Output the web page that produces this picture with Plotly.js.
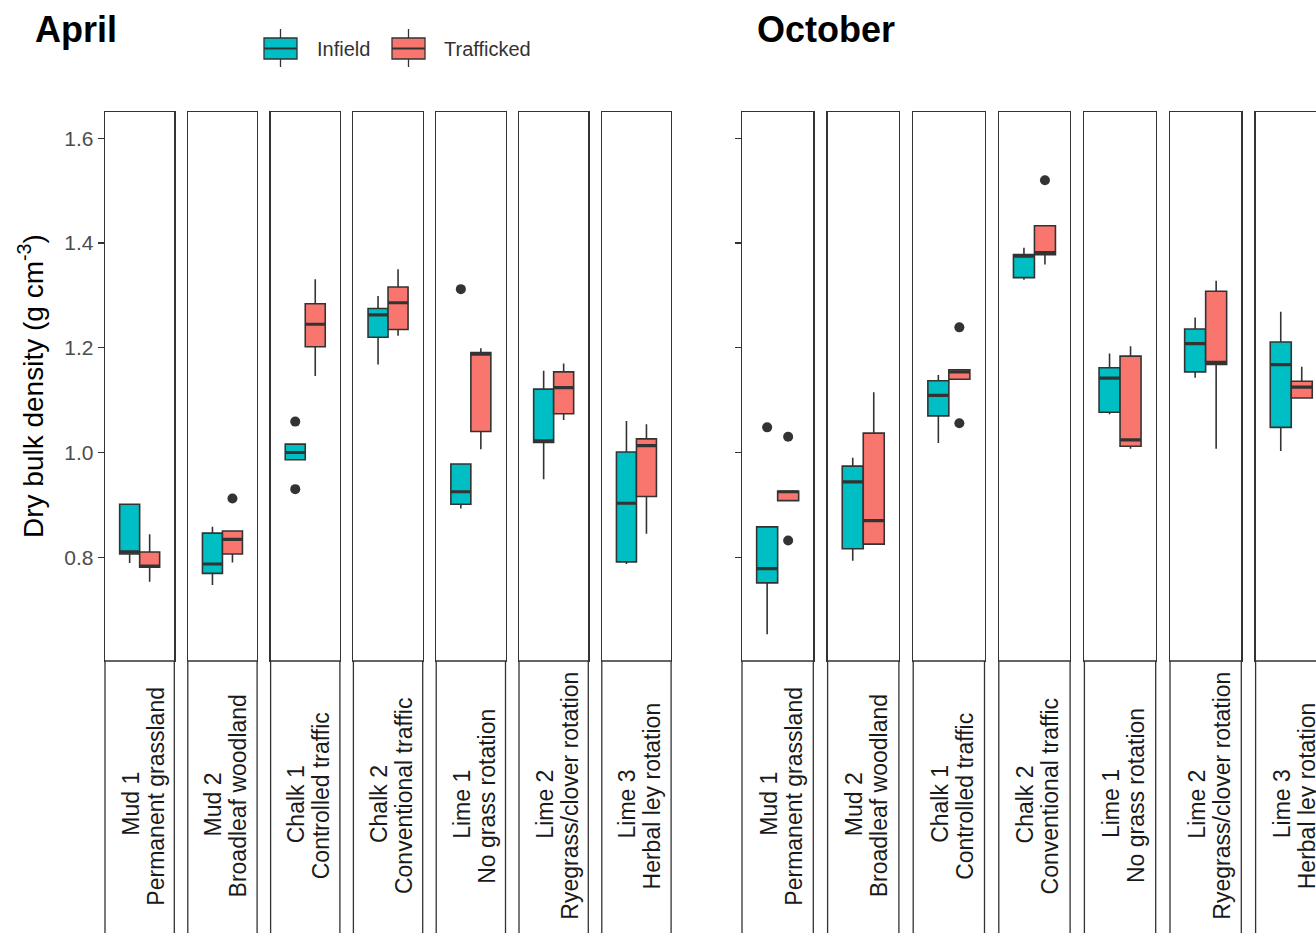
<!DOCTYPE html>
<html><head><meta charset="utf-8">
<script src="https://cdn.plot.ly/plotly-3.0.1.min.js"></script>
<style>html,body{margin:0;padding:0;overflow:hidden;background:#fff}#chart{width:1340px;height:933px}</style>
</head><body><div id="chart"></div><script>
// ---------- data ----------
const months = ['April', 'October'];
const siteNames = ['Mud 1', 'Mud 2', 'Chalk 1', 'Chalk 2', 'Lime 1', 'Lime 2', 'Lime 3'];
const siteDescriptions = ['Permanent grassland', 'Broadleaf woodland', 'Controlled traffic',
  'Conventional traffic', 'No grass rotation', 'Ryegrass/clover rotation', 'Herbal ley rotation'];
const groups = ['Infield', 'Trafficked'];
const groupColors = ['#00BFC4', '#F8766D'];
const yTickValues = [0.8, 1.0, 1.2, 1.4, 1.6];
const yTickLabels = ['0.8', '1.0', '1.2', '1.4', '1.6'];

// April - Infield
const aprInfieldLower  = [0.789, 0.747, 0.986, 1.168, 0.893, 0.949, 0.787];
const aprInfieldQ1     = [0.806, 0.769, 0.986, 1.220, 0.901, 1.019, 0.791];
const aprInfieldMedian = [0.810, 0.787, 1.000, 1.263, 0.925, 1.022, 0.903];
const aprInfieldQ3     = [0.901, 0.846, 1.016, 1.275, 0.978, 1.121, 1.001];
const aprInfieldUpper  = [0.901, 0.858, 1.016, 1.299, 0.978, 1.156, 1.060];
const aprInfieldOut    = [[], [], [1.059, 0.930], [], [1.312], [], []];
// April - Trafficked
const aprTraffLower  = [0.753, 0.790, 1.146, 1.223, 1.006, 1.062, 0.845];
const aprTraffQ1     = [0.781, 0.806, 1.202, 1.235, 1.040, 1.074, 0.916];
const aprTraffMedian = [0.783, 0.834, 1.245, 1.286, 1.188, 1.124, 1.013];
const aprTraffQ3     = [0.810, 0.850, 1.284, 1.316, 1.191, 1.154, 1.026];
const aprTraffUpper  = [0.844, 0.850, 1.331, 1.350, 1.199, 1.170, 1.054];
const aprTraffOut    = [[], [0.912], [], [], [], [], []];
// October - Infield
const octInfieldLower  = [0.653, 0.793, 1.018, 1.330, 1.073, 1.143, 1.003];
const octInfieldQ1     = [0.751, 0.816, 1.070, 1.334, 1.077, 1.154, 1.048];
const octInfieldMedian = [0.778, 0.944, 1.109, 1.375, 1.142, 1.208, 1.168];
const octInfieldQ3     = [0.858, 0.974, 1.137, 1.378, 1.162, 1.236, 1.211];
const octInfieldUpper  = [0.858, 0.990, 1.148, 1.391, 1.189, 1.258, 1.269];
const octInfieldOut    = [[1.048], [], [], [], [], [], []];
// October - Trafficked
const octTraffLower  = [0.908, 0.825, 1.140, 1.359, 1.007, 1.007, 1.104];
const octTraffQ1     = [0.908, 0.825, 1.140, 1.378, 1.012, 1.168, 1.104];
const octTraffMedian = [0.925, 0.870, 1.154, 1.382, 1.024, 1.172, 1.125];
const octTraffQ3     = [0.926, 1.037, 1.158, 1.433, 1.184, 1.308, 1.136];
const octTraffUpper  = [0.926, 1.115, 1.158, 1.433, 1.203, 1.328, 1.164];
const octTraffOut    = [[1.030, 0.832], [], [1.239, 1.056], [1.520], [], [], []];

const stats = [
  [ {lo: aprInfieldLower, q1: aprInfieldQ1, me: aprInfieldMedian, q3: aprInfieldQ3, up: aprInfieldUpper, out: aprInfieldOut},
    {lo: aprTraffLower, q1: aprTraffQ1, me: aprTraffMedian, q3: aprTraffQ3, up: aprTraffUpper, out: aprTraffOut} ],
  [ {lo: octInfieldLower, q1: octInfieldQ1, me: octInfieldMedian, q3: octInfieldQ3, up: octInfieldUpper, out: octInfieldOut},
    {lo: octTraffLower, q1: octTraffQ1, me: octTraffMedian, q3: octTraffQ3, up: octTraffUpper, out: octTraffOut} ]
];

// ---------- layout geometry (pixels) ----------
const W = 1340, H = 933, ML = 105, MR = 13, MT = 112, MB = 272;
const PW = W - ML - MR, PH = H - MT - MB;
const xp = px => (px - ML) / PW;
const yp = py => (H - MB - py) / PH;
const panelLeft = [105, 742];
const facetStep = [82.8, 85.6];
const facetWidth = [69.3, 71.3];
const boxPx = [20, 21];
const yRange = [0.6017, 1.6504];
const FONT = 'Liberation Sans, Arial, sans-serif';
const LINE = '#333333';

const traces = [];
const shapes = [];
const annotations = [];
const layout = {
  width: W, height: H,
  margin: {l: ML, r: MR, t: MT, b: MB, pad: 0},
  paper_bgcolor: '#ffffff', plot_bgcolor: '#ffffff',
  showlegend: false,
  boxmode: 'overlay', boxgap: 0, boxgroupgap: 0,
  font: {family: FONT, color: '#1A1A1A'},
  shapes: shapes, annotations: annotations
};

months.forEach((month, m) => {
  siteNames.forEach((site, i) => {
    const idx = m * 7 + i + 1;
    const suf = idx === 1 ? '' : String(idx);
    const left = panelLeft[m] + i * facetStep[m];
    const right = left + facetWidth[m];
    const mid = (left + right) / 2;
    const half = facetWidth[m] / boxPx[m] / 2;
    layout['xaxis' + suf] = {
      domain: [xp(left), xp(right)], anchor: 'y' + suf,
      type: 'category', categoryorder: 'array', categoryarray: groups,
      range: [0.5 - half, 0.5 + half], fixedrange: true,
      showline: true, mirror: true, linecolor: LINE, linewidth: 1.3,
      showgrid: false, zeroline: false, ticks: '', showticklabels: false
    };
    const firstOfPanel = i === 0;
    layout['yaxis' + suf] = {
      domain: [0, 1], anchor: 'x' + suf, range: yRange, fixedrange: true,
      showline: true, mirror: true, linecolor: LINE, linewidth: 1.3,
      showgrid: false, zeroline: false,
      tickmode: 'array', tickvals: yTickValues, ticktext: yTickLabels,
      ticks: firstOfPanel ? 'outside' : '', ticklen: 6, tickwidth: 1.3, tickcolor: LINE,
      showticklabels: firstOfPanel && m === 0,
      tickfont: {family: FONT, size: 21, color: '#4D4D4D'}
    };
    groups.forEach((g, k) => {
      const s = stats[m][k];
      traces.push({
        type: 'box', name: g, x: [g], xaxis: 'x' + suf, yaxis: 'y' + suf,
        q1: [s.q1[i]], median: [s.me[i]], q3: [s.q3[i]],
        lowerfence: [s.lo[i]], upperfence: [s.up[i]],
        boxpoints: false, whiskerwidth: 0,
        fillcolor: groupColors[k], line: {color: LINE, width: 1.6},
        hoverinfo: 'y'
      });
      // thicker median bar (ggplot fatten)
      traces.push({
        type: 'box', name: g, x: [g], xaxis: 'x' + suf, yaxis: 'y' + suf,
        q1: [s.me[i]], median: [s.me[i]], q3: [s.me[i]],
        lowerfence: [s.me[i]], upperfence: [s.me[i]],
        boxpoints: false, whiskerwidth: 0,
        fillcolor: 'rgba(0,0,0,0)', line: {color: LINE, width: 3.2},
        hoverinfo: 'skip'
      });
      if (s.out[i].length) {
        traces.push({
          type: 'scatter', mode: 'markers', name: g,
          x: s.out[i].map(() => g), y: s.out[i],
          xaxis: 'x' + suf, yaxis: 'y' + suf, cliponaxis: false,
          marker: {size: 10, color: LINE}
        });
      }
    });
    // strip
    shapes.push({
      type: 'rect', xref: 'paper', yref: 'paper',
      x0: xp(left), x1: xp(right), y0: 0, y1: yp(H + 40),
      line: {color: LINE, width: 1.3}, fillcolor: '#ffffff'
    });
    annotations.push({
      xref: 'paper', yref: 'paper', x: xp(mid - 9), y: yp(804),
      text: site, textangle: -90,
      showarrow: false, xanchor: 'center', yanchor: 'middle',
      font: {family: FONT, size: 23, color: '#1A1A1A'}
    });
    annotations.push({
      xref: 'paper', yref: 'paper', x: xp(mid + 16), y: yp(796),
      text: siteDescriptions[i], textangle: -90,
      showarrow: false, xanchor: 'center', yanchor: 'middle',
      font: {family: FONT, size: 23, color: '#1A1A1A'}
    });
  });
  // panel title
  annotations.push({
    xref: 'paper', yref: 'paper', x: xp([33, 755][m]), y: yp(30),
    text: '<b>' + month + '</b>', showarrow: false, xanchor: 'left', yanchor: 'middle',
    font: {family: FONT, size: 36, color: '#000000'}
  });
});

// y axis title
annotations.push({
  xref: 'paper', yref: 'paper', x: xp(31), y: yp(386), textangle: -90,
  text: 'Dry bulk density (g cm<sup>-3</sup>)', showarrow: false,
  xanchor: 'center', yanchor: 'middle',
  font: {family: FONT, size: 28, color: '#000000'}
});

// legend (custom key glyphs like ggplot boxplot keys)
const legendIconLeft = [264, 392];
const legendTextLeft = [315, 442];
groups.forEach((g, k) => {
  const x0 = legendIconLeft[k], x1 = x0 + 33, xc = (x0 + x1) / 2;
  shapes.push({type: 'line', xref: 'paper', yref: 'paper', x0: xp(xc), x1: xp(xc), y0: yp(29), y1: yp(67),
    line: {color: LINE, width: 1.3}});
  shapes.push({type: 'rect', xref: 'paper', yref: 'paper', x0: xp(x0), x1: xp(x1), y0: yp(38), y1: yp(59),
    fillcolor: groupColors[k], line: {color: LINE, width: 1.3}});
  shapes.push({type: 'line', xref: 'paper', yref: 'paper', x0: xp(x0), x1: xp(x1), y0: yp(48.5), y1: yp(48.5),
    line: {color: LINE, width: 2}});
  annotations.push({
    xref: 'paper', yref: 'paper', x: xp(legendTextLeft[k]), y: yp(49), text: g,
    showarrow: false, xanchor: 'left', yanchor: 'middle',
    font: {family: FONT, size: 20, color: '#333333'}
  });
});

Plotly.newPlot('chart', traces, layout, {displayModeBar: false, staticPlot: true});
</script></body></html>
